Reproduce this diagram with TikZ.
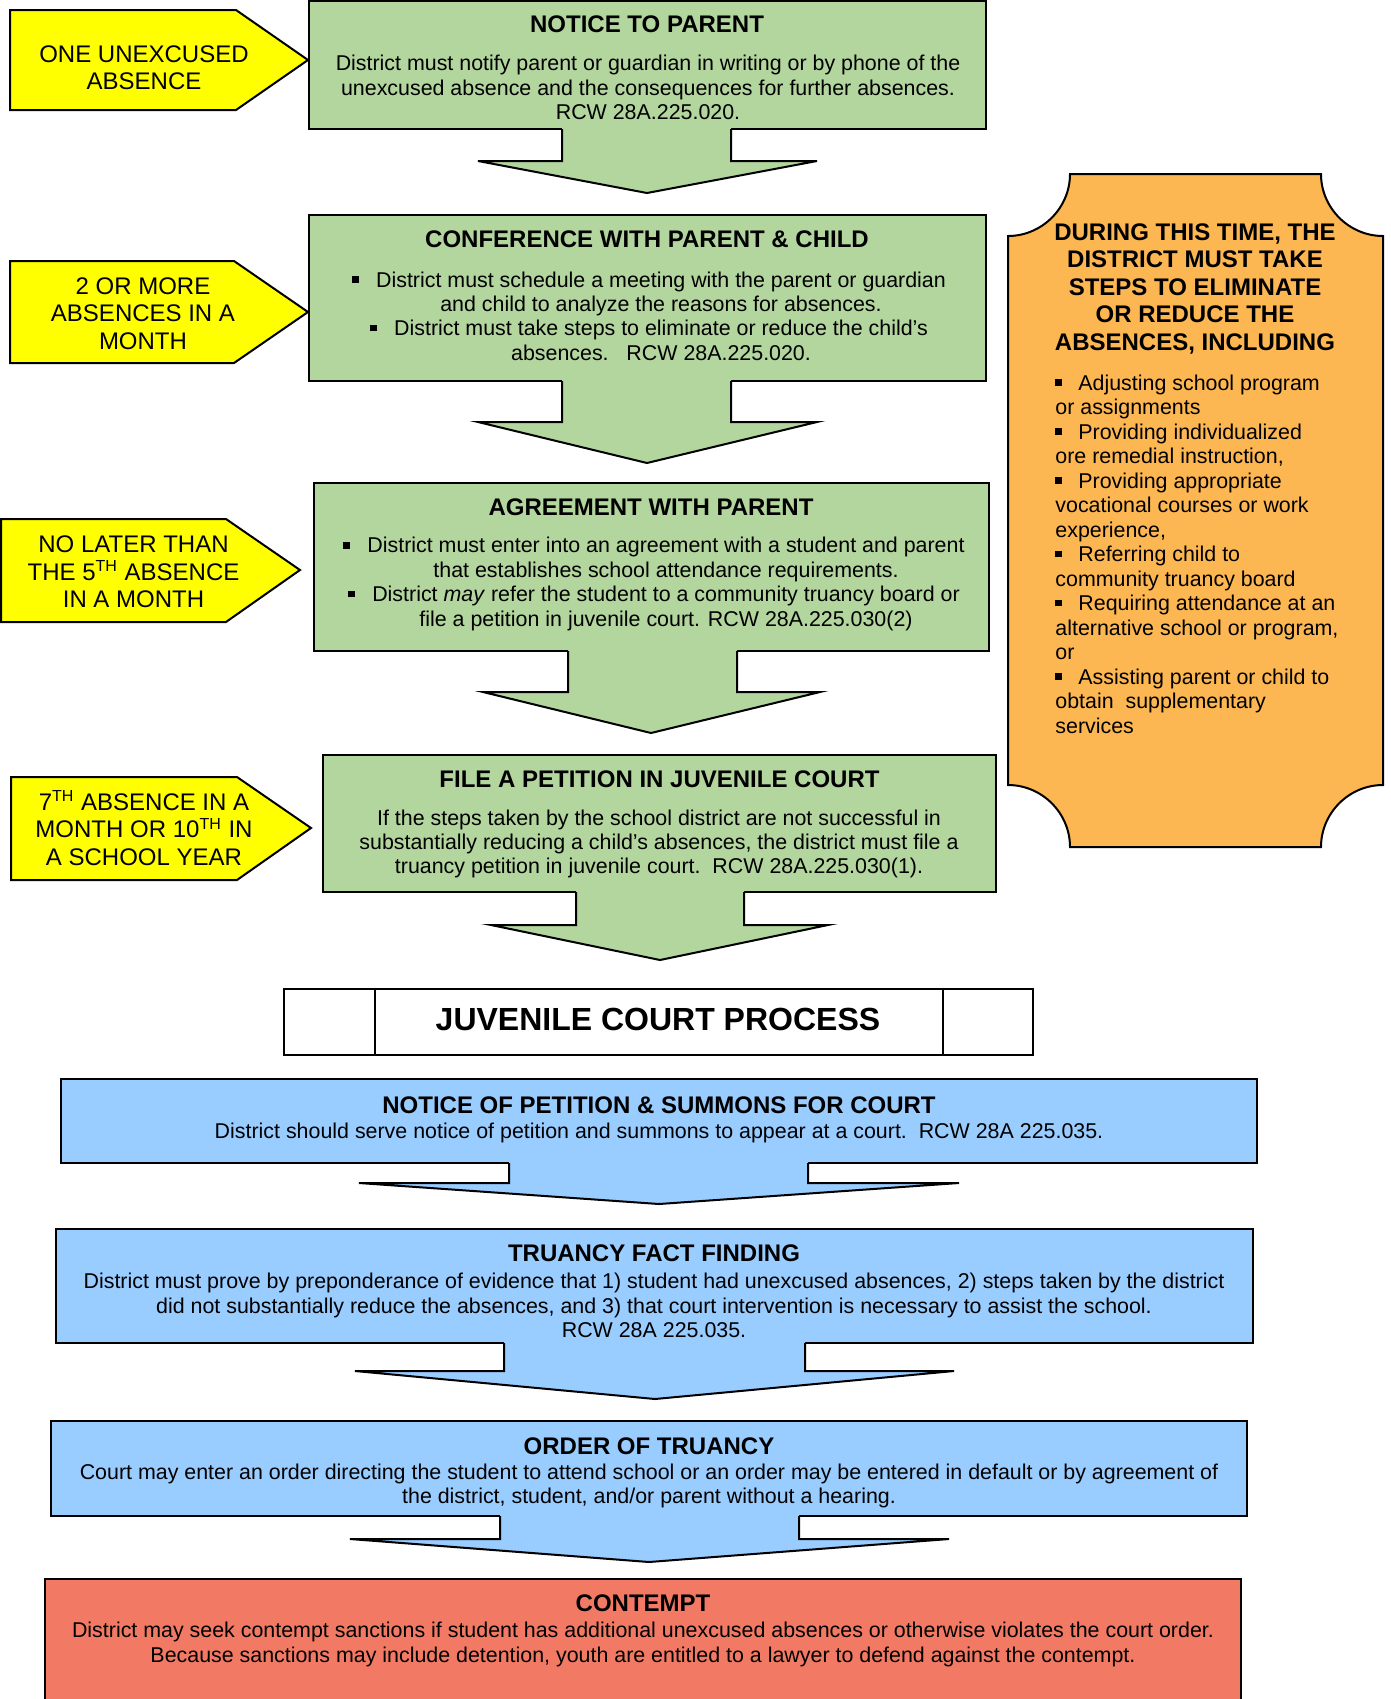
\documentclass[tikz,border=0pt]{standalone}
\usepackage{fontspec}
\setmainfont{Liberation Sans}
\usetikzlibrary{fit}
\definecolor{gfill}{HTML}{B3D59E}
\definecolor{yfill}{HTML}{FFFF00}
\definecolor{ofill}{HTML}{FCB652}
\definecolor{bfill}{HTML}{99CCFF}
\definecolor{rfill}{HTML}{F27A64}
\newcommand\sqb{\rule[2.2pt]{3.3pt}{3.3pt}}
\newcommand\gbul{\llap{\sqb\hspace{8.7pt}}}
\newcommand\blockarrow[9]{%
  \fill[#1] (#3,#2-3) -- (#3,#5) -- (#6,#5) -- (#8,#9) -- (#7,#5) -- (#4,#5) -- (#4,#2-3) -- cycle;
  \draw[edge] (#3,#2) -- (#3,#5) -- (#6,#5) -- (#8,#9) -- (#7,#5) -- (#4,#5) -- (#4,#2);}
\tikzset{
  edge/.style={line width=1pt, draw=black, line join=miter},
  gbox/.style={draw=black, line width=1pt, fill=gfill, inner sep=0pt},
  bbox/.style={draw=black, line width=1pt, fill=bfill, inner sep=0pt},
  wbox/.style={draw=black, line width=1pt, fill=white, inner sep=0pt},
  ybox/.style={draw=black, line width=1pt, fill=yfill, line join=miter},
  ttl/.style={font=\fontsize{12}{13.75}\selectfont\bfseries, inner sep=0pt, align=center},
  bodyt/.style={font=\fontsize{10.7}{12.2}\selectfont, inner sep=0pt, align=center},
  ytxt/.style={font=\fontsize{12}{13.7}\selectfont, inner sep=0pt, align=center},
}
\begin{document}
\begin{tikzpicture}[x=0.5pt,y=-0.5pt]
\useasboundingbox (0,0) rectangle (1391,1699);
\fill[white] (0,0) rectangle (1391,1699);

% green boxes
\node[gbox, fit={(309,1) (986,129)}] (n1) {};
\node[gbox, fit={(309,215) (986,381)}] (n2) {};
\node[gbox, fit={(314,483) (989,651)}] (n3) {};
\node[gbox, fit={(323,755) (996,892)}] (n4) {};

\blockarrow{gfill}{129}{562}{731}{161}{478}{817}{647}{193}
\blockarrow{gfill}{381}{562}{731}{422}{478}{817}{647}{463}
\blockarrow{gfill}{651}{568}{737}{692}{483}{820}{651}{733}
\blockarrow{gfill}{892}{576}{744}{925}{491}{828}{660}{960}

% yellow arrows
\draw[ybox] (10,10) -- (236,10) -- (308,60) -- (236,110) -- (10,110) -- cycle;
\draw[ybox] (10,261) -- (234,261) -- (308,312) -- (234,363) -- (10,363) -- cycle;
\draw[ybox] (1,519) -- (226,519) -- (300,570) -- (226,622) -- (1,622) -- cycle;
\draw[ybox] (11,777) -- (237,777) -- (311,828) -- (237,880) -- (11,880) -- cycle;

\node[ytxt] (y1) at (144,67.7) {ONE UNEXCUSED\\ABSENCE};
\node[ytxt] (y2) at (143,313.5) {2 OR MORE\\ABSENCES IN A\\MONTH};
\node[ytxt] (y3) at (133.5,572) {NO LATER THAN\\THE 5\textsuperscript{TH} ABSENCE\\IN A MONTH};
\node[ytxt] (y4) at (144,828) {7\textsuperscript{TH} ABSENCE IN A\\MONTH OR 10\textsuperscript{TH} IN\\A SCHOOL YEAR};

% green texts
\node[ttl] (t1) at (647,24.7) {NOTICE TO PARENT};
\node[bodyt] (d1) at (648,87.5) {District must notify parent or guardian in writing or by phone of the\\unexcused absence and the consequences for further absences.\\RCW 28A.225.020.};
\node[ttl] (t2) at (647,239.7) {CONFERENCE WITH PARENT \& CHILD};
\node[bodyt] (d2) at (661,316) {\gbul District must schedule a meeting with the parent or guardian\\and child to analyze the reasons for absences.\\\gbul District must take steps to eliminate or reduce the child’s\\absences.\ \ \ RCW 28A.225.020.};
\node[ttl] (t3) at (651,507) {AGREEMENT WITH PARENT};
\node[bodyt] (d3) at (666,584) {\gbul District must enter into an agreement with a student and parent\\that establishes school attendance requirements.\\\gbul District \textit{may} refer the student to a community truancy board or\\file a petition in juvenile court. RCW 28A.225.030(2)};
\node[ttl] (t4) at (659.5,779) {FILE A PETITION IN JUVENILE COURT};
\node[bodyt] (d4) at (659,844) {If the steps taken by the school district are not successful in\\substantially reducing a child’s absences, the district must file a\\truancy petition in juvenile court.\ \ RCW 28A.225.030(1).};

% orange box
\filldraw[fill=ofill, draw=black, line width=1pt]
  (1070,174) -- (1321,174) .. controls (1321,208) and (1349,236) .. (1383,236)
  -- (1383,785) .. controls (1349,785) and (1321,813) .. (1321,847)
  -- (1070,847) .. controls (1070,813) and (1042,785) .. (1008,785)
  -- (1008,236) .. controls (1042,236) and (1070,208) .. (1070,174) -- cycle;
\node[ttl] (ot) at (1195,288.5) {DURING THIS TIME, THE\\DISTRICT MUST TAKE\\STEPS TO ELIMINATE\\OR REDUCE THE\\ABSENCES, INCLUDING};
\node[font=\fontsize{10.7}{12.25}\selectfont, inner sep=0pt, align=left, anchor=west] (ol) at (1055,554) {%
\sqb\hspace{8.2pt}Adjusting school program\\
or assignments\\
\sqb\hspace{8.2pt}Providing individualized\\
ore remedial instruction,\\
\sqb\hspace{8.2pt}Providing appropriate\\
vocational courses or work\\
experience,\\
\sqb\hspace{8.2pt}Referring child to\\
community truancy board\\
\sqb\hspace{8.2pt}Requiring attendance at an\\
alternative school or program,\\
or\\
\sqb\hspace{8.2pt}Assisting parent or child to\\
obtain\ \ supplementary\\
services};

% juvenile court process
\node[wbox, fit={(284,989) (1033,1055)}] (jc) {};
\draw[edge] (375,989) -- (375,1055);
\draw[edge] (943,989) -- (943,1055);
\node[font=\fontsize{16}{18}\selectfont\bfseries, inner sep=0pt] (jct) at (658,1019) {JUVENILE COURT PROCESS};

% blue boxes
\node[bbox, fit={(61,1079) (1257,1163)}] (b1) {};
\node[bbox, fit={(56,1229) (1253,1343)}] (b2) {};
\node[bbox, fit={(51,1421) (1247,1516)}] (b3) {};
\blockarrow{bfill}{1163}{509}{808}{1183}{359}{959}{659}{1204}
\blockarrow{bfill}{1343}{504}{805}{1371}{355}{954}{655}{1399}
\blockarrow{bfill}{1516}{500}{799}{1539}{350}{949}{649}{1562}

\node[ttl] (bt1) at (659,1105) {NOTICE OF PETITION \& SUMMONS FOR COURT};
\node[bodyt] (bd1) at (659,1132.5) {District should serve notice of petition and summons to appear at a court.\ \ RCW 28A 225.035.};
\node[ttl] (bt2) at (654,1253) {TRUANCY FACT FINDING};
\node[bodyt] (bd2) at (654,1305.5) {District must prove by preponderance of evidence that 1) student had unexcused absences, 2) steps taken by the district\\did not substantially reduce the absences, and 3) that court intervention is necessary to assist the school.\\RCW 28A 225.035.};
\node[ttl] (bt3) at (649,1446) {ORDER OF TRUANCY};
\node[bodyt] (bd3) at (649,1486) {Court may enter an order directing the student to attend school or an order may be entered in default or by agreement of\\the district, student, and/or parent without a hearing.};

% contempt
\fill[rfill] (45,1579) rectangle (1241,1699);
\draw[edge] (45,1699) -- (45,1579) -- (1241,1579) -- (1241,1699);
\node[ttl] (ct) at (643,1603) {CONTEMPT};
\node[bodyt] (cd) at (643,1644.5) {District may seek contempt sanctions if student has additional unexcused absences or otherwise violates the court order.\\Because sanctions may include detention, youth are entitled to a lawyer to defend against the contempt.};
\end{tikzpicture}
\end{document}
